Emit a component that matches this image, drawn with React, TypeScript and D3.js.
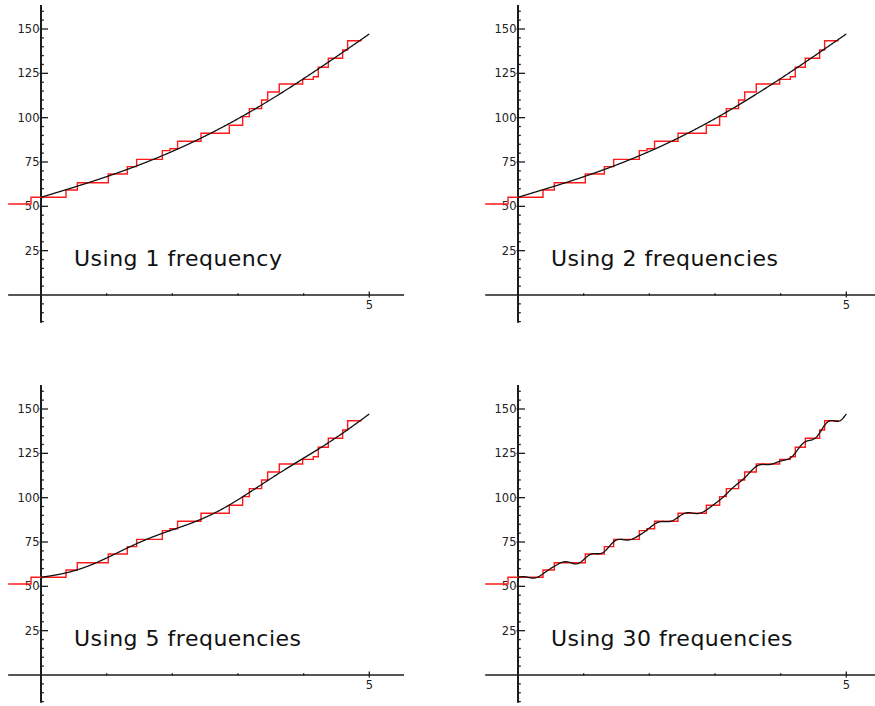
import React, { useMemo } from 'react';
import * as d3 from 'd3';

// Step series: each level starts at stepStarts[i] and holds stepValues[i]
const stepStarts = [-0.5, -0.152, 0.381, 0.553, 1.025, 1.315, 1.457, 1.848, 1.964, 2.08, 2.437, 2.868, 3.071, 3.173, 3.36, 3.452, 3.629, 3.985, 4.147, 4.223, 4.376, 4.594, 4.67];
const stepValues = [51.3, 55.1, 59.2, 63.3, 68.2, 72.4, 76.5, 81.4, 82.5, 86.7, 91.2, 95.7, 100.6, 105.1, 110.0, 114.5, 119.0, 121.6, 123.1, 128.4, 133.5, 138.2, 143.4];
const stepEnd = 4.883;

// Fit interval and the trend line's end values
const fitDomain = [0, 5];
const fitEndValues = [55.1, 147.2];

const frequencyCounts = [1, 2, 5, 30];
const panelTitles = ['Using 1 frequency', 'Using 2 frequencies', 'Using 5 frequencies', 'Using 30 frequencies'];

const yLabelTicks = [25, 50, 75, 100, 125, 150];
const xLabelTicks = [5];

const W = 875;
const H = 706;
const panelOffsets: [number, number][] = [[0, 0], [477, 0], [0, 380], [477, 380]];

function stepAt(x: number): number {
  let v = stepValues[0];
  for (let i = 0; i < stepStarts.length; i++) if (x >= stepStarts[i]) v = stepValues[i];
  return v;
}

// Linear trend plus a sine series of the residual, truncated to n terms
function makeFit(n: number) {
  const [a, b] = fitDomain;
  const L = b - a;
  const trend = (x: number) => fitEndValues[0] + (fitEndValues[1] - fitEndValues[0]) * (x - a) / L;
  const M = 10000;
  const dx = L / M;
  const xs: number[] = [];
  const rs: number[] = [];
  for (let i = 0; i < M; i++) {
    const x = a + (i + 0.5) * dx;
    xs.push(x);
    rs.push(stepAt(x) - trend(x));
  }
  const coef: number[] = [];
  for (let k = 1; k <= n; k++) {
    let s = 0;
    for (let i = 0; i < M; i++) s += rs[i] * Math.sin(k * Math.PI * (xs[i] - a) / L) * dx;
    coef.push((2 / L) * s);
  }
  return (x: number) => {
    let v = trend(x);
    for (let k = 1; k <= n; k++) v += coef[k - 1] * Math.sin(k * Math.PI * (x - a) / L);
    return v;
  };
}

const FONT = '"DejaVu Sans", "Liberation Sans", sans-serif';

function Panel({ ox, oy, freq, title }: { ox: number; oy: number; freq: number; title: string }) {
  const x = d3.scaleLinear().domain([0, 5]).range([ox + 41, ox + 369.3]);
  const y = d3.scaleLinear().domain([0, 150]).range([oy + 295, oy + 29]);

  const fit = useMemo(() => makeFit(freq), [freq]);

  const stepPts: [number, number][] = stepStarts.map((s, i) => [s, stepValues[i]]);
  stepPts.push([stepEnd, stepValues[stepValues.length - 1]]);
  const stepPath = d3.line<[number, number]>()
    .x(d => x(d[0]))
    .y(d => y(d[1]))
    .curve(d3.curveStepAfter)(stepPts) || '';

  const samples = d3.range(0, 801).map(i => fitDomain[0] + (fitDomain[1] - fitDomain[0]) * i / 800);
  const fitPath = d3.line<number>()
    .x(d => x(d))
    .y(d => y(fit(d)))(samples) || '';

  const yMinor = d3.range(-15, 165, 5).filter(v => v !== 0);
  const xMinor = d3.range(1, 5);
  const axisColor = '#1c1c1c';

  return (
    <g>
      {/* horizontal axis */}
      <line x1={x(-0.5)} x2={x(5.53)} y1={y(0)} y2={y(0)} stroke={axisColor} strokeWidth={1.5} />
      {xMinor.map(v => (
        <line key={'xm' + v} x1={x(v)} x2={x(v)} y1={y(0) - 1.8} y2={y(0) + 0.5} stroke={axisColor} strokeWidth={1.3} />
      ))}
      {xLabelTicks.map(v => (
        <g key={'xl' + v}>
          <line x1={x(v)} x2={x(v)} y1={y(0) - 3.5} y2={y(0) + 2.5} stroke={axisColor} strokeWidth={1.3} />
          <text x={x(v)} y={y(0) + 14} textAnchor="middle" fontFamily={FONT} fontSize={11.5} fill="#222">{v}</text>
        </g>
      ))}
      {/* vertical axis */}
      <line x1={x(0)} x2={x(0)} y1={y(-15.6)} y2={y(163.5)} stroke={axisColor} strokeWidth={2} />
      {yMinor.map(v => {
        const major = v % 25 === 0 && v > 0;
        return (
          <line key={'ym' + v} x1={x(0) - (major ? 1.5 : 0)} x2={x(0) + (major ? 7 : 2.8)} y1={y(v)} y2={y(v)} stroke={axisColor} strokeWidth={1.3} />
        );
      })}
      {yLabelTicks.map(v => (
        <text key={'yl' + v} x={x(0) - 1.5} y={y(v) + 4} textAnchor="end" fontFamily={FONT} fontSize={11.5} fill="#222">{v}</text>
      ))}
      {/* step series */}
      <path d={stepPath} fill="none" stroke="#ff1a1a" strokeWidth={1.4} />
      {/* fitted curve */}
      <path d={fitPath} fill="none" stroke="#111" strokeWidth={1.3} />
      <text x={ox + 74} y={oy + 266} fontFamily={FONT} fontSize={22} letterSpacing={0.5} fill="#111">{title}</text>
    </g>
  );
}

export default function App() {
  return (
    <svg width={W} height={H} style={{ position: 'absolute', left: 0, top: 0, background: '#fff' }}>
      <rect width={W} height={H} fill="#fff" />
      {frequencyCounts.map((f, i) => (
        <Panel key={f} ox={panelOffsets[i][0]} oy={panelOffsets[i][1]} freq={f} title={panelTitles[i]} />
      ))}
    </svg>
  );
}
